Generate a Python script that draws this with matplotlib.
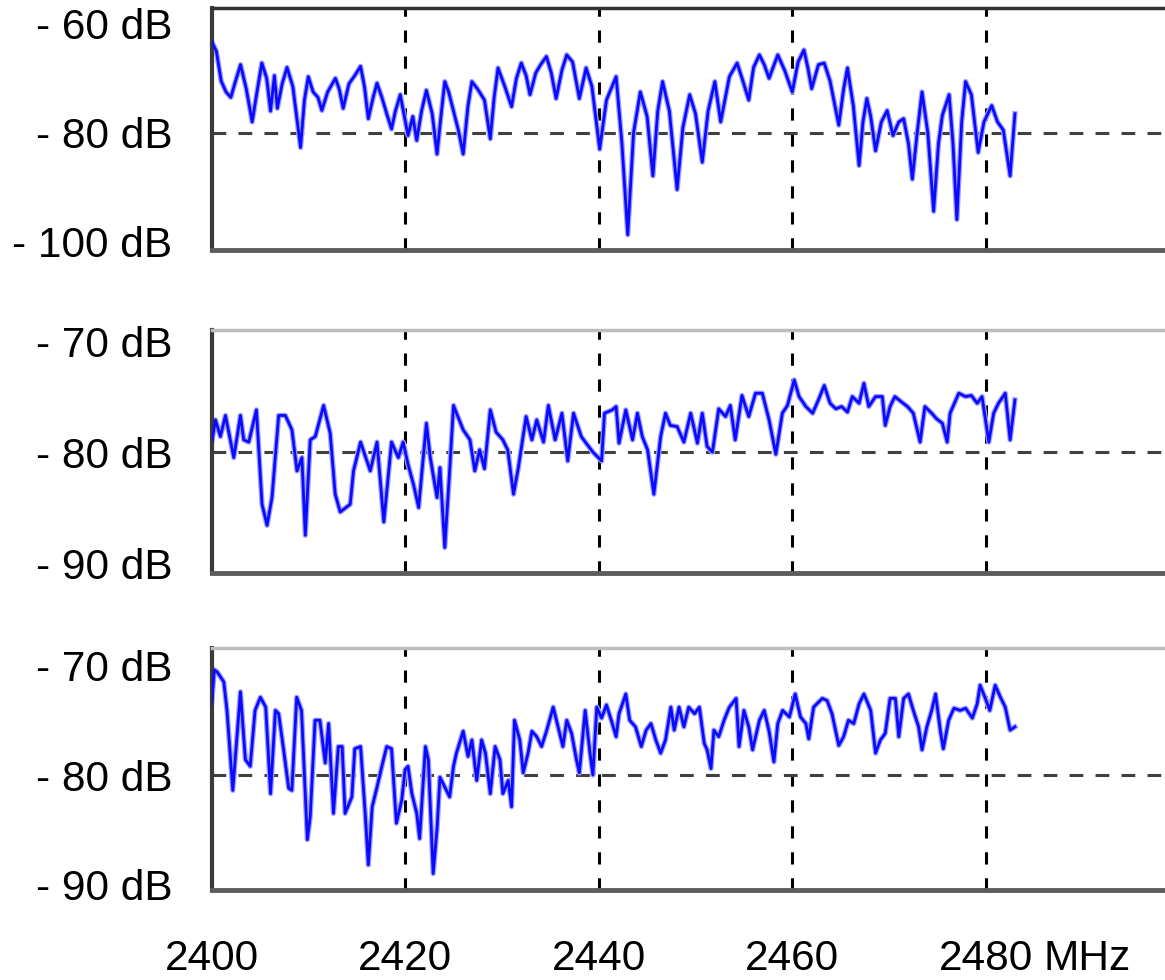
import matplotlib
matplotlib.use("Agg")
import matplotlib.pyplot as plt
from matplotlib.ticker import FixedLocator, FixedFormatter
import matplotlib.transforms as mtransforms

plt.rcParams['font.family'] = ['Liberation Sans', 'DejaVu Sans']

# top panel
freq_a = [2400.0, 2400.5, 2401.0, 2401.5, 2402.0, 2402.4, 2403.0, 2403.6, 2404.2, 2404.7,
          2405.2, 2405.7, 2406.1, 2406.5, 2406.8, 2407.3, 2407.8, 2408.4, 2409.2, 2409.6,
          2410.0, 2410.5, 2411.0, 2411.4, 2412.0, 2412.8, 2413.2, 2413.6, 2414.2, 2414.8,
          2415.4, 2415.8, 2416.2, 2416.7, 2417.1, 2417.6, 2418.1, 2418.6, 2419.0, 2419.5,
          2420.3, 2420.8, 2421.2, 2421.7, 2422.2, 2422.8, 2423.3, 2423.7, 2424.1, 2424.5,
          2425.0, 2425.5, 2426.0, 2426.5, 2426.9, 2427.5, 2428.2, 2428.8, 2429.2, 2429.6,
          2430.3, 2431.0, 2431.5, 2432.0, 2432.5, 2432.9, 2433.5, 2434.0, 2434.6, 2435.1,
          2435.6, 2436.2, 2436.7, 2437.3, 2438.0, 2438.7, 2439.3, 2440.1, 2440.8, 2441.8,
          2442.4, 2443.0, 2443.6, 2444.3, 2445.0, 2445.6, 2446.1, 2446.6, 2447.3, 2448.1,
          2448.7, 2449.4, 2450.0, 2450.7, 2451.3, 2452.0, 2452.6, 2453.5, 2454.3, 2454.9,
          2455.5, 2456.0, 2456.6, 2457.1, 2457.6, 2458.5, 2459.2, 2460.0, 2460.6, 2461.2,
          2461.6, 2462.0, 2462.7, 2463.3, 2463.9, 2464.8, 2465.3, 2465.7, 2466.3, 2466.9,
          2467.3, 2467.7, 2468.1, 2468.6, 2469.2, 2469.8, 2470.4, 2471.0, 2471.5, 2472.0,
          2472.4, 2472.9, 2473.4, 2474.0, 2474.6, 2475.1, 2475.5, 2476.2, 2476.6, 2477.0,
          2477.5, 2477.9, 2478.5, 2479.2, 2479.8, 2480.6, 2481.2, 2481.8, 2482.5, 2483.0]
db_a = [-63.2, -65.0, -70.5, -72.5, -73.5, -71.0, -67.5, -72.0, -78.0, -72.5,
        -67.2, -70.0, -76.0, -69.5, -75.5, -71.0, -68.0, -71.5, -82.7, -74.0,
        -69.7, -72.5, -73.5, -75.9, -72.5, -70.0, -72.0, -75.5, -71.0, -69.5,
        -67.8, -71.5, -77.4, -73.5, -70.9, -73.5, -76.5, -79.3, -76.0, -73.0,
        -80.5, -77.0, -81.4, -76.0, -72.2, -76.5, -83.9, -77.0, -70.6, -72.5,
        -76.0, -79.5, -83.9, -75.0, -70.6, -72.0, -74.0, -81.1, -73.5, -68.1,
        -71.5, -75.2, -70.0, -67.2, -69.5, -73.0, -69.0, -67.5, -66.0, -69.0,
        -73.7, -68.5, -65.7, -67.0, -73.7, -68.1, -71.5, -83.0, -74.0, -69.7,
        -82.0, -98.7, -80.0, -72.5, -77.0, -87.9, -76.0, -70.6, -76.0, -90.4,
        -79.0, -73.0, -76.5, -85.4, -76.0, -70.6, -78.0, -69.7, -67.2, -70.5,
        -74.0, -68.0, -65.7, -67.5, -70.0, -65.7, -68.5, -72.5, -67.0, -64.8,
        -68.0, -71.9, -67.5, -67.2, -70.5, -78.6, -72.0, -68.1, -75.0, -86.0,
        -78.0, -73.7, -77.0, -83.3, -78.0, -75.9, -80.5, -78.0, -77.4, -82.0,
        -88.5, -80.0, -72.5, -80.0, -94.4, -82.0, -76.8, -73.0, -82.0, -95.9,
        -78.0, -70.6, -73.0, -83.6, -78.0, -75.0, -78.0, -79.5, -87.9, -76.5]

# middle panel
freq_b = [2400.07, 2400.41, 2400.92, 2401.44, 2402.3, 2402.99, 2403.33, 2403.85, 2404.64, 2405.22,
          2405.74, 2406.25, 2406.94, 2407.63, 2408.31, 2408.83, 2409.34, 2409.69, 2410.2, 2410.72,
          2411.58, 2412.26, 2412.78, 2413.3, 2414.33, 2414.67, 2415.4, 2416.4, 2417.1, 2417.8,
          2418.6, 2419.3, 2419.8, 2420.3, 2420.86, 2421.4, 2422.2, 2422.6, 2423.3, 2423.6,
          2424.1, 2424.6, 2425.0, 2426.0, 2426.7, 2427.2, 2427.7, 2428.2, 2428.8, 2429.4,
          2430.1, 2430.6, 2431.2, 2431.7, 2432.5, 2433.1, 2433.6, 2434.3, 2434.8, 2435.5,
          2436.2, 2436.8, 2437.4, 2438.2, 2438.7, 2439.4, 2440.3, 2440.6, 2441.4, 2441.8,
          2442.1, 2442.8, 2443.5, 2444.0, 2444.5, 2445.05, 2445.7, 2446.4, 2446.9, 2447.4,
          2448.1, 2448.8, 2449.5, 2450.2, 2450.7, 2451.2, 2451.75, 2452.4, 2453.1, 2453.6,
          2454.1, 2454.8, 2455.5, 2456.2, 2456.9, 2457.6, 2458.3, 2458.97, 2459.5, 2460.2,
          2460.7, 2461.4, 2462.1, 2462.7, 2463.3, 2463.9, 2464.5, 2465.1, 2465.7, 2466.2,
          2466.9, 2467.4, 2467.9, 2468.6, 2469.3, 2469.6, 2470.1, 2470.6, 2471.3, 2471.9,
          2472.5, 2473.2, 2473.7, 2474.4, 2474.9, 2475.5, 2476.0, 2476.3, 2477.2, 2477.9,
          2478.5, 2479.1, 2479.6, 2480.3, 2480.8, 2481.3, 2482.0, 2482.5, 2483.0]
db_b = [-78.9, -77.1, -78.6, -76.7, -80.5, -76.7, -78.9, -79.1, -76.2, -84.7,
        -86.6, -84.1, -76.7, -76.7, -78.0, -81.7, -80.5, -87.5, -78.9, -78.6,
        -75.8, -78.3, -83.8, -85.4, -84.7, -81.7, -79.1, -81.7, -79.1, -86.3,
        -79.1, -80.5, -79.1, -81.1, -82.9, -85.0, -77.4, -80.5, -84.1, -81.4,
        -88.6, -81.7, -75.8, -78.0, -78.9, -81.7, -79.8, -81.5, -76.2, -78.2,
        -78.9, -79.8, -83.8, -81.4, -76.8, -78.9, -77.1, -79.1, -75.8, -78.9,
        -76.5, -80.8, -76.5, -78.6, -79.2, -80.0, -80.8, -76.5, -76.2, -75.9,
        -79.2, -76.2, -78.9, -76.5, -78.6, -79.8, -83.8, -78.6, -76.5, -77.6,
        -77.7, -79.1, -76.5, -79.2, -76.5, -79.5, -80.0, -76.1, -76.8, -75.8,
        -78.9, -74.9, -76.8, -74.7, -74.7, -77.1, -80.2, -76.5, -75.8, -73.5,
        -75.0, -75.9, -76.5, -75.3, -74.0, -75.6, -76.1, -75.9, -76.4, -75.0,
        -75.6, -73.8, -75.9, -75.0, -75.0, -77.6, -75.9, -75.0, -75.5, -75.9,
        -76.5, -79.1, -75.9, -76.5, -77.0, -77.4, -79.1, -76.5, -74.7, -75.0,
        -74.9, -75.6, -75.0, -79.1, -76.5, -75.6, -74.7, -78.9, -75.3]

# bottom panel
freq_c = [2400.0, 2400.3, 2400.6, 2401.27, 2401.6, 2402.2, 2402.99, 2403.5, 2404.0, 2404.5,
          2405.05, 2405.6, 2406.1, 2406.6, 2406.94, 2407.45, 2407.97, 2408.3, 2408.8, 2409.3,
          2409.9, 2410.2, 2410.7, 2411.2, 2411.75, 2412.1, 2412.6, 2413.1, 2413.5, 2413.8,
          2414.5, 2414.8, 2415.4, 2415.9, 2416.2, 2416.6, 2417.1, 2417.6, 2418.1, 2418.6,
          2419.1, 2419.65, 2420.0, 2420.3, 2420.7, 2421.2, 2421.5, 2422.1, 2422.4, 2422.9,
          2423.3, 2423.6, 2424.1, 2424.6, 2425.0, 2425.3, 2426.0, 2426.5, 2426.9, 2427.4,
          2427.9, 2428.3, 2428.8, 2429.3, 2429.8, 2430.1, 2430.65, 2431.0, 2431.3, 2431.85,
          2432.2, 2432.7, 2433.1, 2433.6, 2434.1, 2434.6, 2435.3, 2435.8, 2436.3, 2436.7,
          2437.2, 2437.7, 2438.0, 2438.6, 2439.1, 2439.4, 2439.8, 2440.3, 2440.8, 2441.3,
          2441.8, 2442.1, 2442.8, 2443.2, 2443.8, 2444.4, 2444.9, 2445.4, 2445.9, 2446.4,
          2446.9, 2447.45, 2447.8, 2448.3, 2448.8, 2449.3, 2449.9, 2450.4, 2450.9, 2451.2,
          2451.6, 2451.9, 2452.4, 2452.95, 2453.5, 2454.2, 2454.5, 2455.0, 2455.5, 2455.9,
          2456.6, 2457.1, 2457.6, 2458.1, 2458.5, 2459.0, 2459.7, 2460.3, 2460.85, 2461.4,
          2461.7, 2462.2, 2463.1, 2463.6, 2464.1, 2464.8, 2465.3, 2465.8, 2466.35, 2466.9,
          2467.4, 2468.1, 2468.6, 2469.1, 2469.6, 2470.1, 2470.65, 2471.0, 2471.5, 2472.0,
          2472.5, 2473.05, 2473.4, 2473.9, 2474.4, 2474.8, 2475.3, 2475.6, 2476.15, 2476.7,
          2477.35, 2477.9, 2478.6, 2479.1, 2479.4, 2479.9, 2480.4, 2480.96, 2481.5, 2482.0,
          2482.5, 2483.0]
db_c = [-73.5, -70.4, -70.6, -71.5, -74.1, -81.4, -72.4, -78.6, -79.2, -74.1,
        -72.9, -73.8, -81.7, -74.1, -74.4, -77.7, -81.2, -81.4, -72.9, -74.1,
        -85.9, -83.8, -75.0, -75.0, -78.9, -75.3, -83.5, -77.4, -77.4, -83.5,
        -82.0, -77.6, -77.4, -83.8, -88.2, -82.9, -81.1, -79.2, -77.4, -77.6,
        -84.4, -82.3, -79.5, -79.2, -81.7, -83.5, -85.8, -77.4, -78.6, -89.0,
        -84.9, -80.2, -81.1, -82.0, -79.2, -78.0, -76.0, -78.3, -76.8, -80.5,
        -76.8, -78.0, -81.7, -77.4, -78.6, -81.7, -80.5, -82.9, -75.0, -76.8,
        -79.8, -78.0, -76.0, -76.5, -77.4, -76.0, -73.8, -75.6, -77.4, -75.0,
        -76.2, -78.6, -79.8, -74.1, -78.0, -80.0, -73.8, -74.8, -73.6, -75.0,
        -76.5, -74.4, -72.6, -75.0, -75.6, -77.4, -75.9, -75.3, -76.8, -78.0,
        -76.8, -73.8, -75.9, -73.8, -75.6, -73.8, -74.4, -73.8, -77.1, -77.7,
        -79.4, -75.9, -76.5, -75.0, -73.8, -73.0, -77.4, -74.1, -75.6, -77.7,
        -75.0, -74.1, -76.0, -78.8, -75.3, -74.1, -74.7, -72.6, -74.7, -75.3,
        -76.7, -73.8, -73.0, -73.2, -74.4, -77.3, -76.5, -75.0, -75.3, -73.5,
        -72.6, -74.1, -78.0, -76.8, -76.2, -73.0, -73.0, -76.5, -73.0, -72.6,
        -74.1, -75.6, -77.7, -75.6, -74.1, -72.6, -76.0, -77.6, -75.0, -73.9,
        -74.1, -73.9, -74.8, -73.5, -71.8, -72.9, -74.1, -71.8, -72.9, -73.8,
        -75.9, -75.6]

xticks = [2400, 2420, 2440, 2460, 2480]
xtick_labels = ["2400", "2420", "2440", "2460", "2480"]
yticks_a = [-60, -80, -100]
ylabels_a = ["- 60 dB", "- 80 dB", "- 100 dB"]
yticks_bc = [-70, -80, -90]
ylabels_bc = ["- 70 dB", "- 80 dB", "- 90 dB"]

W, H = 1165, 980
fig = plt.figure(figsize=(W / 100, H / 100), dpi=100)

left = 211.5
x_max = 2400 + (W - left) / 9.68
fs = 30.5

panels = [
    # top px, bottom px, ylim, data
    (8, 250, (-101.5, -57.1), freq_a, db_a, yticks_a, ylabels_a),
    (330, 573, (-90.9, -69.0), freq_b, db_b, yticks_bc, ylabels_bc),
    (648, 890, (-90.5, -68.4), freq_c, db_c, yticks_bc, ylabels_bc),
]

axes = []
for i, (top, bot, ylim, fx, fy, yt, yl) in enumerate(panels):
    ax = fig.add_axes([left / W, 1 - bot / H, (W - left) / W, (bot - top) / H])
    ax.set_xlim(2400, x_max)
    ax.set_ylim(*ylim)

    for xv in xticks[1:]:
        ax.axvline(xv, color="black", lw=2.2, dashes=(4, 4.5), zorder=1)
    ax.axhline(-80, color="#404040", lw=2.2, dashes=(4.5, 4), zorder=1)

    # soft halo + core, like the blurred trace in the scan
    ax.plot(fx, fy, color="#9d9dff", lw=3.8, zorder=2)
    ax.plot(fx, fy, color="#0a0aff", lw=2.0, zorder=3)

    ax.spines["right"].set_visible(False)
    ax.spines["left"].set_color("#3a3a3a")
    ax.spines["left"].set_linewidth(3)
    ax.spines["bottom"].set_color("#5c5c5c")
    ax.spines["bottom"].set_linewidth(3.5)
    ax.spines["top"].set_color("#333333" if i == 0 else "#bdbdbd")
    ax.spines["top"].set_linewidth(2.5)

    ax.yaxis.set_major_locator(FixedLocator(yt))
    ax.yaxis.set_major_formatter(FixedFormatter(yl))
    ax.xaxis.set_major_locator(FixedLocator(xticks))
    ax.tick_params(axis="y", length=0, pad=28, labelsize=fs)
    ax.tick_params(axis="x", length=0, pad=35, labelsize=fs)
    if i < 2:
        ax.tick_params(axis="x", labelbottom=False)
    else:
        ax.xaxis.set_major_formatter(FixedFormatter(xtick_labels))
    axes.append(ax)

ax3 = axes[2]
trans = mtransforms.blended_transform_factory(ax3.transData, ax3.transAxes)
ax3.text(2486.0, -(35 * 100 / 72) / 242, "MHz", transform=trans, va="top", ha="left",
         fontsize=fs)

fig.savefig("out.png", dpi=100)
